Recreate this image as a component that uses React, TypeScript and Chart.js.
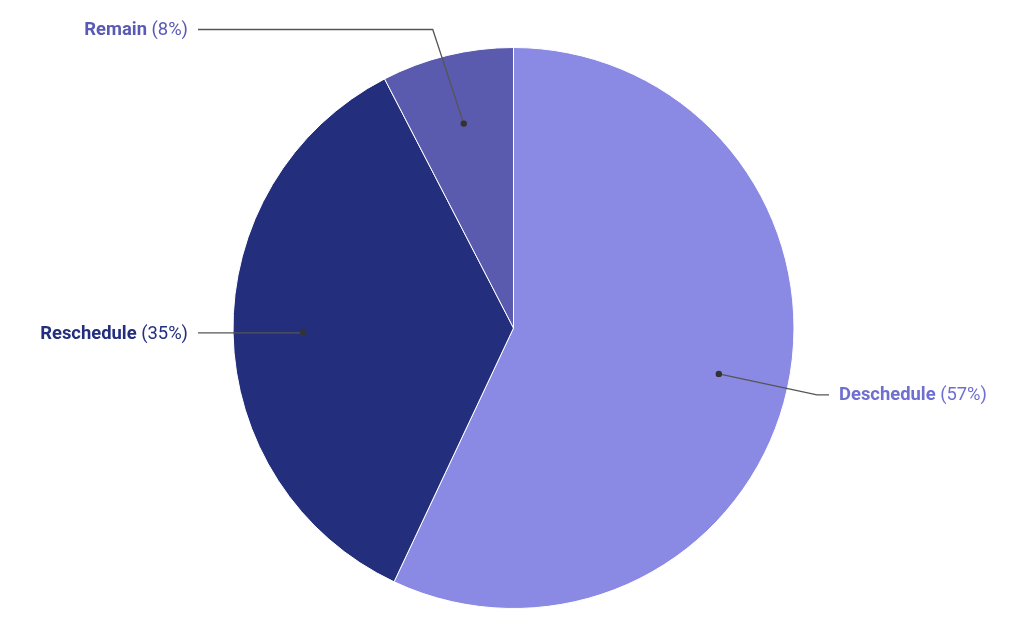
import React, { useEffect, useRef } from "react";
import { Chart, registerables } from "chart.js";

Chart.register(...registerables);

const categories = ["Deschedule", "Reschedule", "Remain"];
const shares = [57.0, 35.4, 7.6];
const sliceColors = ["#8a8ae5", "#232f7d", "#5a5aae"];
const textColors = ["#6f6fd2", "#232f7d", "#5a5ab4"];
const labelSide = ["right", "left", "left"];
const FONT_SIZE = 18.4;

const calloutPlugin = {
  id: "callouts",
  afterDraw(chart: any) {
    const ctx = chart.ctx;
    const meta = chart.getDatasetMeta(0);
    const total = shares.reduce((a, b) => a + b, 0);
    ctx.save();
    meta.data.forEach((arc: any, i: number) => {
      const { x, y, startAngle, endAngle, outerRadius } = arc.getProps(
        ["x", "y", "startAngle", "endAngle", "outerRadius"],
        true
      );
      const mid = (startAngle + endAngle) / 2;
      const dr = outerRadius * 0.75;
      const dx = x + Math.cos(mid) * dr;
      const dy = y + Math.sin(mid) * dr;
      const side = labelSide[i];
      const lineEndX = side === "left" ? x - outerRadius - 35 : x + outerRadius + 35;
      let ly: number;
      let elbowX: number;
      if (i === 2) {
        ly = y - outerRadius - 18;
        elbowX = dx - 31;
      } else if (i === 0) {
        ly = dy + 21;
        elbowX = lineEndX - 12;
      } else {
        ly = dy + 1;
        elbowX = dx;
      }
      ctx.strokeStyle = "#555555";
      ctx.lineWidth = 1.3;
      ctx.beginPath();
      ctx.moveTo(dx, dy);
      ctx.lineTo(elbowX, ly);
      ctx.lineTo(lineEndX, ly);
      ctx.stroke();
      ctx.fillStyle = "#333333";
      ctx.beginPath();
      ctx.arc(dx, dy, 3.2, 0, Math.PI * 2);
      ctx.fill();

      const name = categories[i];
      const pct = " (" + Math.round((shares[i] / total) * 100) + "%)";
      ctx.textBaseline = "middle";
      ctx.font = `bold ${FONT_SIZE}px Roboto`;
      const wName = ctx.measureText(name).width;
      ctx.font = `${FONT_SIZE}px Roboto`;
      const wPct = ctx.measureText(pct).width;
      const tx = side === "left" ? lineEndX - 10 - wName - wPct : lineEndX + 10;
      const ty = ly + 1;
      ctx.fillStyle = textColors[i];
      ctx.textAlign = "left";
      ctx.font = `bold ${FONT_SIZE}px Roboto`;
      ctx.fillText(name, tx, ty);
      ctx.font = `${FONT_SIZE}px Roboto`;
      ctx.fillText(pct, tx + wName, ty);
    });
    ctx.restore();
  },
};

export default function App() {
  const canvasRef = useRef<HTMLCanvasElement | null>(null);
  useEffect(() => {
    document.body.style.margin = "0";
    const chart = new Chart(canvasRef.current as HTMLCanvasElement, {
      type: "pie",
      data: {
        labels: categories,
        datasets: [
          {
            data: shares,
            backgroundColor: sliceColors,
            borderColor: "#ffffff",
            borderWidth: 1,
          },
        ],
      },
      options: {
        responsive: false,
        animation: false,
        layout: { padding: { top: 47, bottom: 32, left: 3, right: 0 } },
        plugins: {
          legend: { display: false },
          tooltip: { enabled: false },
        },
      },
      plugins: [calloutPlugin],
    });
    return () => chart.destroy();
  }, []);
  return (
    <div style={{ width: 1024, height: 641, background: "#ffffff" }}>
      <canvas ref={canvasRef} width={1024} height={641} />
    </div>
  );
}
